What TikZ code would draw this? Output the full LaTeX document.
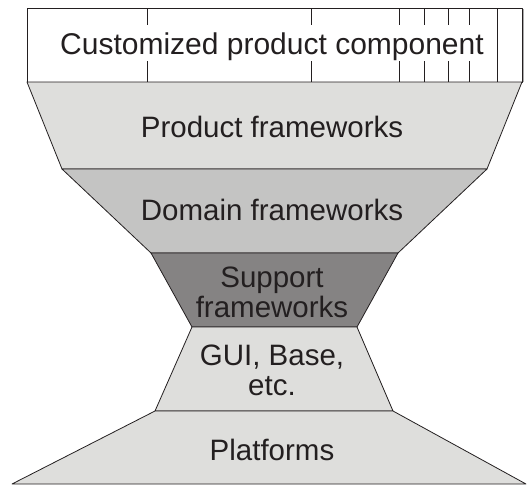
\documentclass[tikz,border=0pt]{standalone}
\usepackage{fontspec}
\setmainfont{Liberation Sans}
\definecolor{lightband}{RGB}{222,222,220}
\definecolor{midband}{RGB}{196,196,195}
\definecolor{darkband}{RGB}{133,131,131}
\definecolor{inkgray}{RGB}{35,31,32}
\definecolor{shadegray}{RGB}{170,170,170}
\tikzset{
  band/.style={draw=inkgray,line width=0.8pt,line join=round},
  tickline/.style={draw=inkgray,line width=0.7pt},
  bandtext/.style={font=\fontsize{29.5}{30}\selectfont,text=inkgray,inner sep=0pt,align=center,anchor=base}
}

\begin{document}
\begin{tikzpicture}[x=1pt,y=-1pt]
	\useasboundingbox (0,0) rectangle (528,485);
	% customized component box
	\draw[band,fill=white] (27,8) rectangle (522,82);
	\foreach \x in {147.7,311.7,399.3,424,448.7,469.3} {
		\draw[tickline] (\x,8) -- (\x,25);
		\draw[tickline] (\x,61) -- (\x,82);
	}
	\draw[tickline] (497.7,8) -- (497.7,82);
	\draw[shadegray,line width=0.8pt] (523.8,9) -- (523.8,82);
	% framework layers
	\draw[band,fill=lightband] (27,82) -- (522,82) -- (487,169) -- (62,169) -- cycle;
	\draw[band,fill=midband] (62,169) -- (487,169) -- (398,253) -- (151,253) -- cycle;
	\draw[band,fill=darkband] (151,253) -- (398,253) -- (357,327) -- (192,327) -- cycle;
	\draw[band,fill=lightband] (192,327) -- (357,327) -- (393,411) -- (155,411) -- cycle;
	\draw[band,fill=lightband] (155,411) -- (393,411) -- (526,484) -- (12,484) -- cycle;
	% labels (base of a two-line node is its last line)
	\node[bandtext,font=\fontsize{30}{30}\selectfont] (custom) at (272,54) {Customized product component};
	\node[bandtext] (product) at (272,137) {Product frameworks};
	\node[bandtext] (domain) at (272,220) {Domain frameworks};
	\node[bandtext] (support) at (272,317) {Support\\frameworks};
	\node[bandtext] (gui) at (272,395) {GUI, Base,\\etc.};
	\node[bandtext] (platforms) at (272,460) {Platforms};
\end{tikzpicture}
\end{document}
